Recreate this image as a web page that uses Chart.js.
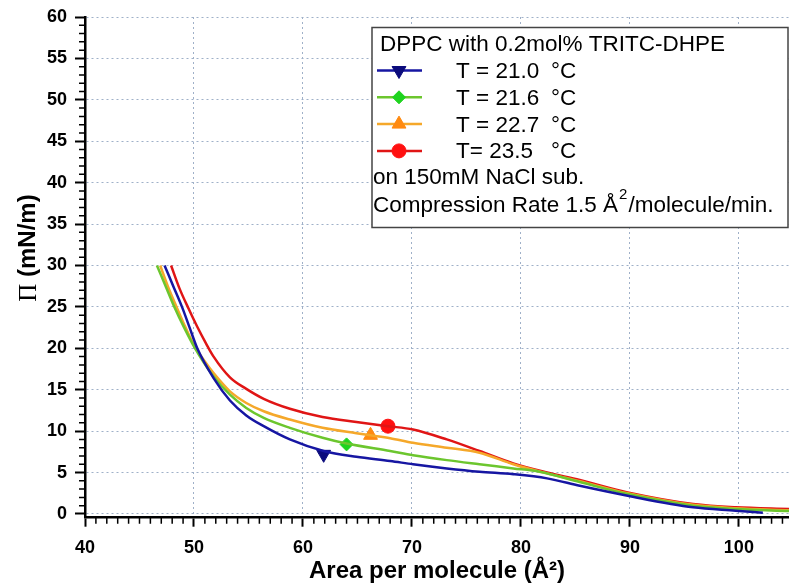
<!DOCTYPE html>
<html>
<head>
<meta charset="utf-8">
<title>DPPC isotherms</title>
<script src="https://cdn.jsdelivr.net/npm/chart.js@4.4.0/dist/chart.umd.min.js"></script>
<style>
  body { margin: 0; background: #fff; }
  #wrap { width: 789px; height: 587px; }
</style>
</head>
<body>
<div id="wrap"><canvas id="graphCanvas" width="789" height="587"></canvas></div>
<script>
// isotherm data: area per molecule (A^2) / surface pressure (mN/m)
var blueA  = [47.3, 48.1, 48.9, 49.6, 50.3, 51.8, 53.3, 54.8, 56.4, 58.8, 61.9, 64.9, 68.0, 70.1, 73.2, 76.2, 79.3, 82.4, 85.4, 89.8, 95.8, 99.7, 102.2];
var blueP  = [30.0, 27.5, 25.0, 22.5, 20.0, 16.4, 13.7, 11.9, 10.6, 9.0, 7.6, 6.9, 6.4, 6.0, 5.5, 5.1, 4.8, 4.3, 3.4, 2.2, 0.8, 0.4, 0.15];

var greenA = [46.6, 47.4, 48.2, 49.1, 50.1, 51.8, 53.3, 54.8, 56.4, 58.8, 61.8, 64.0, 68.0, 70.1, 73.2, 76.2, 79.3, 81.7, 85.4, 89.8, 95.8, 99.7, 104.6];
var greenP = [30.0, 27.5, 25.0, 22.5, 20.0, 16.6, 14.4, 12.8, 11.6, 10.4, 9.2, 8.5, 7.6, 7.1, 6.5, 6.0, 5.5, 5.1, 3.85, 2.4, 1.0, 0.6, 0.35];

var orangeA = [46.9, 47.6, 48.4, 49.2, 50.0, 51.0, 51.8, 53.3, 54.8, 56.4, 58.8, 61.8, 64.9, 66.2, 68.0, 70.1, 73.2, 76.2, 79.3, 82.4, 85.4, 89.8, 95.8, 99.7, 104.6];
var orangeP = [30.0, 27.5, 25.0, 22.6, 20.4, 18.4, 17.0, 14.8, 13.4, 12.4, 11.4, 10.4, 9.75, 9.5, 9.15, 8.6, 8.0, 7.4, 6.0, 4.9, 3.95, 2.5, 1.1, 0.7, 0.45];

var redA = [47.9, 48.65, 49.5, 50.3, 51.1, 51.8, 53.3, 54.8, 56.4, 58.8, 61.8, 64.9, 67.8, 70.1, 73.2, 76.2, 79.3, 82.4, 85.4, 89.8, 95.8, 99.7, 104.6];
var redP = [30.0, 27.3, 24.8, 22.6, 20.6, 19.0, 16.5, 15.1, 13.9, 12.7, 11.7, 11.1, 10.6, 10.2, 9.0, 7.6, 6.1, 5.0, 4.1, 2.6, 1.2, 0.8, 0.6];

// one symbol per curve
var markerA = [61.9, 64.0, 66.2, 67.8];
var markerP = [7.2, 8.4, 9.5, 10.6];

var tempLabels = ['T = 21.0', 'T = 21.6', 'T = 22.7', 'T= 23.5'];
var legendTitle = 'DPPC with 0.2mol% TRITC-DHPE';
var subLine = 'on 150mM NaCl sub.';

var xTicks = [40, 50, 60, 70, 80, 90, 100];
var yTicks = [0, 5, 10, 15, 20, 25, 30, 35, 40, 45, 50, 55, 60];

var lineColors = ['#1616a2', '#6cc62e', '#f5a82a', '#e01515'];
var markerColors = ['#0b0b7c', '#1ed41e', '#ff8a10', '#ff1010'];
var markerStyles = ['triangle', 'rectRot', 'triangle', 'circle'];
var markerRot = [180, 0, 0, 0];
var markerSize = [8, 6.5, 8, 7];

function pts(a, p) {
    var out = [];
    for (var i in a) {
        out.push({ x: a[i], y: p[i] });
    }
    return out;
}

var curves = [pts(blueA, blueP), pts(greenA, greenP), pts(orangeA, orangeP), pts(redA, redP)];

var datasets = [];
for (var i = 0; i < 4; i++) {
    datasets.push({
        label: tempLabels[i] + '  °C',
        data: curves[i],
        showLine: true,
        borderColor: lineColors[i],
        borderWidth: 2.5,
        pointRadius: 0,
        cubicInterpolationMode: 'monotone',
        fill: false
    });
}
for (var i = 0; i < 4; i++) {
    datasets.push({
        label: tempLabels[i] + ' marker',
        data: [{ x: markerA[i], y: markerP[i] }],
        showLine: false,
        pointStyle: markerStyles[i],
        pointRotation: markerRot[i],
        pointRadius: markerSize[i],
        pointBackgroundColor: markerColors[i],
        pointBorderColor: markerColors[i],
        pointBorderWidth: 1
    });
}

var tickFont = { family: '"Liberation Sans", Arial, sans-serif', size: 18, weight: 'bold' };

// minor ticks, y title with serif Pi, and the boxed legend
var extras = {
    id: 'extras',
    afterDraw: function (chart) {
        var ctx = chart.ctx;
        var xs = chart.scales.x, ys = chart.scales.y;
        var area = chart.chartArea;
        ctx.save();
        ctx.strokeStyle = '#000';
        ctx.lineWidth = 1.5;
        ctx.beginPath();
        for (var v = 41; v <= 104; v++) {
            if (v % 10 === 0) continue;
            var px = xs.getPixelForValue(v);
            ctx.moveTo(px, area.bottom);
            ctx.lineTo(px, area.bottom + 6);
        }
        for (var v = 1; v < 60; v++) {
            if (v % 5 === 0) continue;
            var py = ys.getPixelForValue(v);
            ctx.moveTo(area.left - 6, py);
            ctx.lineTo(area.left, py);
        }
        ctx.stroke();

        // y axis title
        ctx.save();
        ctx.translate(28, 248);
        ctx.rotate(-Math.PI / 2);
        ctx.fillStyle = '#000';
        ctx.textBaseline = 'middle';
        ctx.font = '25px "Liberation Serif", "Times New Roman", serif';
        var w1 = ctx.measureText('Π').width;
        ctx.font = 'bold 24px "Liberation Sans", Arial, sans-serif';
        var w2 = ctx.measureText(' (mN/m)').width;
        var x0 = -(w1 + w2) / 2;
        ctx.font = '25px "Liberation Serif", "Times New Roman", serif';
        ctx.fillText('Π', x0, 1);
        ctx.font = 'bold 24px "Liberation Sans", Arial, sans-serif';
        ctx.fillText(' (mN/m)', x0 + w1, 0);
        ctx.restore();

        // legend box
        ctx.fillStyle = '#fff';
        ctx.fillRect(372, 28, 416, 200);
        ctx.strokeStyle = '#444';
        ctx.lineWidth = 1.5;
        ctx.strokeRect(372, 27.5, 416, 200);

        ctx.fillStyle = '#000';
        ctx.textBaseline = 'alphabetic';
        ctx.font = '22.5px "Liberation Sans", Arial, sans-serif';
        ctx.fillText(legendTitle, 380, 51);
        for (var i = 0; i < 4; i++) {
            var ly = 70.5 + i * 26.8;
            ctx.strokeStyle = lineColors[i];
            ctx.lineWidth = 2.5;
            ctx.beginPath();
            ctx.moveTo(377, ly);
            ctx.lineTo(422, ly);
            ctx.stroke();
            ctx.fillStyle = markerColors[i];
            ctx.strokeStyle = markerColors[i];
            ctx.lineWidth = 1;
            Chart.helpers.drawPoint(ctx, {
                pointStyle: markerStyles[i],
                rotation: markerRot[i],
                radius: markerSize[i],
                borderWidth: 1
            }, 399, ly);
            ctx.fillStyle = '#000';
            ctx.fillText(tempLabels[i], 456, ly + 7.5);
            ctx.fillText('°C', 551, ly + 7.5);
        }
        ctx.fillText(subLine, 373, 184);
        var s1 = 'Compression Rate 1.5 Å';
        ctx.fillText(s1, 373, 211.5);
        var sw = ctx.measureText(s1).width;
        ctx.font = '15px "Liberation Sans", Arial, sans-serif';
        ctx.fillText('2', 373 + sw + 1, 199);
        var sw2 = ctx.measureText('2').width;
        ctx.font = '22.5px "Liberation Sans", Arial, sans-serif';
        ctx.fillText('/molecule/min.', 373 + sw + sw2 + 2, 211.5);
        ctx.restore();
    }
};

var graphTarget = document.getElementById('graphCanvas');

var isoChart = new Chart(graphTarget, {
    type: 'scatter',
    data: { datasets: datasets },
    options: {
        responsive: false,
        animation: false,
        devicePixelRatio: 1,
        layout: { autoPadding: false, padding: { top: 17, left: 0, right: 0, bottom: 0 } },
        plugins: {
            legend: { display: false },
            tooltip: { enabled: false }
        },
        scales: {
            x: {
                type: 'linear',
                min: 40,
                max: 104.6,
                afterBuildTicks: function (axis) {
                    axis.ticks = xTicks.map(function (v) { return { value: v }; });
                },
                afterFit: function (axis) {
                    axis.height = 69.3;
                    axis.paddingRight = 0;
                },
                ticks: { font: tickFont, color: '#000', padding: 11, autoSkip: false, maxRotation: 0 },
                grid: { color: '#9fb0c8', lineWidth: 1, tickColor: '#000', tickWidth: 2, tickLength: 9 },
                border: { display: true, color: '#000', width: 2.5, dash: [2, 3] },
                title: {
                    display: true,
                    text: 'Area per molecule (Å²)',
                    color: '#000',
                    font: { family: '"Liberation Sans", Arial, sans-serif', size: 24, weight: 'bold' },
                    padding: { top: 0, bottom: 1 }
                }
            },
            y: {
                type: 'linear',
                min: -0.45,
                max: 60,
                afterBuildTicks: function (axis) {
                    axis.ticks = yTicks.map(function (v) { return { value: v }; });
                },
                afterFit: function (axis) {
                    axis.width = 85;
                    axis.paddingTop = 0;
                },
                ticks: { font: tickFont, color: '#000', padding: 8, autoSkip: false },
                grid: { color: '#9fb0c8', lineWidth: 1, tickColor: '#000', tickWidth: 2, tickLength: 10 },
                border: { display: true, color: '#000', width: 2.5, dash: [2, 3] }
            }
        }
    },
    plugins: [extras]
});
</script>
</body>
</html>
